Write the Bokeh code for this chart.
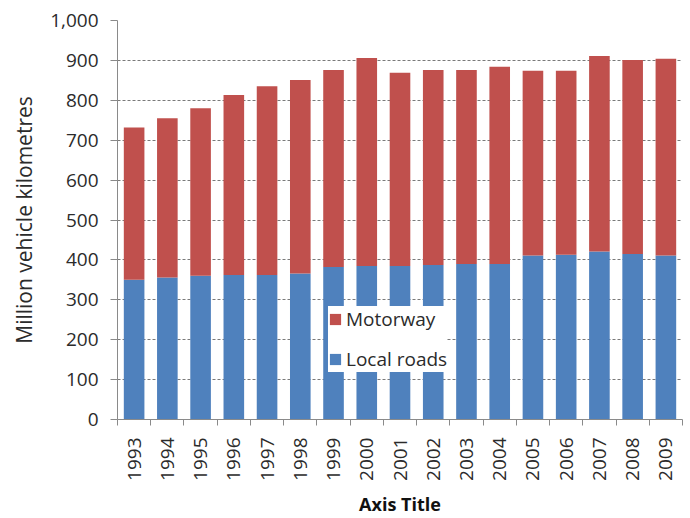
from bokeh.plotting import figure
from bokeh.models import (Range1d, FixedTicker, NumeralTickFormatter, Legend,
                          LegendItem, ColumnDataSource)
from bokeh.embed import file_html
from bokeh.resources import INLINE
import math

# Annual traffic, million vehicle kilometres
years = ["1993", "1994", "1995", "1996", "1997", "1998", "1999", "2000", "2001",
         "2002", "2003", "2004", "2005", "2006", "2007", "2008", "2009"]
local_roads = [350, 356, 360, 362, 362, 366, 382, 385, 385,
               387, 390, 390, 411, 413, 421, 415, 411]
motorway = [382, 399, 420, 451, 473, 485, 494, 521, 484,
            489, 486, 494, 463, 461, 490, 486, 493]

FONT = "Open Sans"
TEXT = "#2b2b2b"
RED = "#C0504D"
BLUE = "#4F81BD"

xpos = list(range(len(years)))
source = ColumnDataSource(dict(x=xpos, local=local_roads, motorway=motorway))

p = figure(width=690, height=518, output_backend="svg", toolbar_location=None,
           x_range=Range1d(-0.5, len(years) - 0.5), y_range=Range1d(0, 1000),
           min_border_left=117, min_border_right=8, min_border_top=20,
           min_border_bottom=99)
p.outline_line_color = None
p.background_fill_color = "white"
p.border_fill_color = "white"

renderers = p.vbar_stack(["local", "motorway"], x="x", width=0.62,
                         color=[BLUE, RED], line_color=None, source=source)

# Legend placed inside the plot area
legend = Legend(items=[LegendItem(label="Motorway", renderers=[renderers[1]]),
                       LegendItem(label="Local roads", renderers=[renderers[0]])],
                location=(211, 47))
legend.border_line_color = None
legend.background_fill_color = "white"
legend.background_fill_alpha = 1.0
legend.glyph_width = 14
legend.glyph_height = 14
legend.label_height = 24
legend.label_width = 94
legend.label_standoff = 4
legend.spacing = 14
legend.padding = 10
legend.margin = 0
legend.label_text_font = FONT
legend.label_text_font_size = "19px"
legend.label_text_color = TEXT
legend.label_text_baseline = "middle"
p.add_layout(legend)

# Y axis
p.yaxis.ticker = FixedTicker(ticks=list(range(0, 1001, 100)))
p.yaxis.formatter = NumeralTickFormatter(format="0,0")
p.yaxis.axis_label = "Million vehicle kilometres"
p.yaxis.axis_label_text_font = FONT
p.yaxis.axis_label_text_font_size = "21px"
p.yaxis.axis_label_text_font_style = "normal"
p.yaxis.axis_label_text_color = TEXT
p.yaxis.axis_label_standoff = 9
p.yaxis.major_label_text_font = FONT
p.yaxis.major_label_text_font_size = "19px"
p.yaxis.major_label_text_color = TEXT
p.yaxis.major_label_standoff = 12
p.yaxis.major_tick_out = 7
p.yaxis.major_tick_in = 0
p.yaxis.minor_tick_out = 0
p.yaxis.minor_tick_in = 0
p.yaxis.axis_line_color = "#8a8a8a"
p.yaxis.major_tick_line_color = "#8a8a8a"

# X axis: labels centred on bars, tick marks between categories
p.xaxis.ticker = FixedTicker(ticks=xpos, minor_ticks=[i - 0.5 for i in range(len(years) + 1)])
p.xaxis.major_label_overrides = {i: y for i, y in zip(xpos, years)}
p.xaxis.major_label_orientation = math.pi / 2
p.xaxis.major_label_text_font = FONT
p.xaxis.major_label_text_font_size = "19px"
p.xaxis.major_label_text_color = TEXT
p.xaxis.major_label_standoff = 12
p.xaxis.major_tick_line_color = None
p.xaxis.major_tick_out = 6
p.xaxis.major_tick_in = 0
p.xaxis.minor_tick_out = 6
p.xaxis.minor_tick_in = 0
p.xaxis.minor_tick_line_color = "#8a8a8a"
p.xaxis.axis_line_color = "#8a8a8a"
p.xaxis.axis_label = "Axis Title"
p.xaxis.axis_label_text_font = FONT
p.xaxis.axis_label_text_font_size = "18px"
p.xaxis.axis_label_text_font_style = "bold"
p.xaxis.axis_label_text_color = "#111111"
p.xaxis.axis_label_text_line_height = 1.0
p.xaxis.axis_label_standoff = 8

# Grid
p.xgrid.grid_line_color = None
p.ygrid.grid_line_color = "#7a7a7a"
p.ygrid.grid_line_dash = "3 2"
p.ygrid.grid_line_width = 1

open("out.html", "w").write(file_html(p, INLINE))
